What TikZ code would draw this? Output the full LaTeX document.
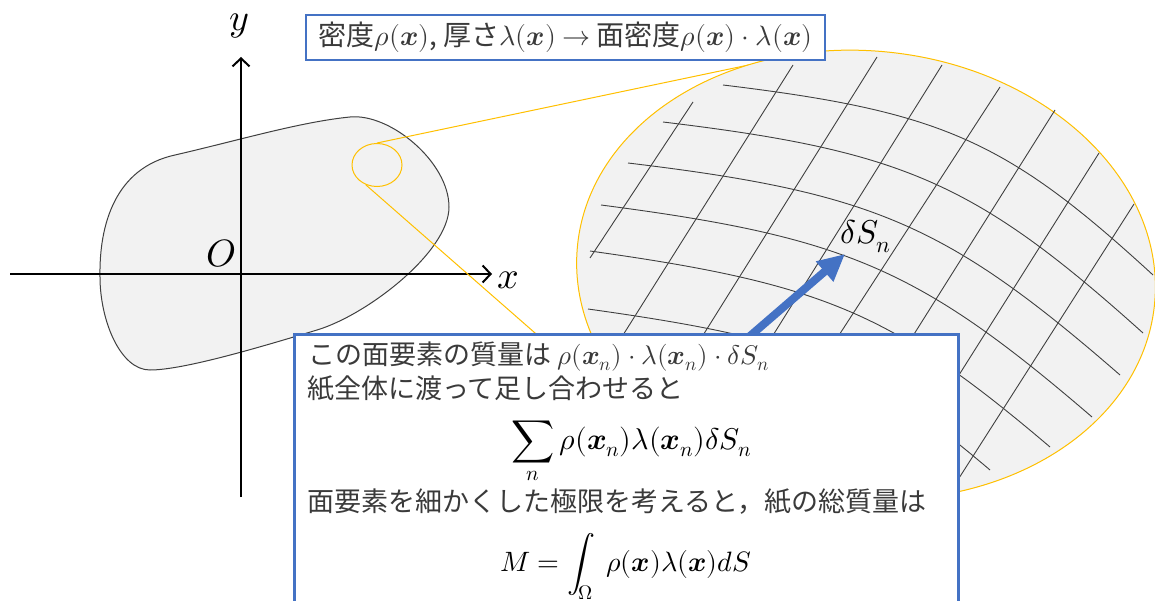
\documentclass[tikz,border=0pt]{standalone}
\usepackage{fontspec}
\usepackage{unicode-math}
\newfontfamily\jp{Noto Sans CJK JP}
\usetikzlibrary{arrows.meta,shapes.geometric}
\definecolor{boxblue}{HTML}{4472C4}
\definecolor{gold}{HTML}{FFC000}
\definecolor{paper}{HTML}{F2F2F2}
\definecolor{gridc}{HTML}{404040}
\definecolor{txt}{HTML}{3A3A3A}
\begin{document}
\begin{tikzpicture}[x=1pt,y=-1pt,
  blob/.style={draw=gridc, line width=1pt, fill=paper},
  axis/.style={line width=2pt, -{Straight Barb[length=8pt 0,width=17pt 0]}},
  yline/.style={draw=gold, line width=1pt},
  gridline/.style={draw=gridc, line width=0.9pt},
  bluearrow/.style={draw=boxblue, line width=8pt, -{Triangle[length=27pt 0,width=25pt 0]}},
  bluebox/.style={draw=boxblue, line width=2.5pt, fill=white, inner sep=0pt},
  jtext/.style={anchor=base west, inner sep=0pt, text=txt, font={\jp\fontsize{27}{32}\selectfont}},
  mtext/.style={anchor=base west, inner sep=0pt, font={\fontsize{28}{33}\selectfont}},
  axlabel/.style={anchor=base, inner sep=0pt, font={\fontsize{38}{44}\selectfont}}]
\useasboundingbox (0,0) rectangle (1155,601);
\clip (0,0) rectangle (1155,601);
\fill[white] (0,0) rectangle (1155,601);

% paper blob
\draw[blob] (175,155) .. controls (240,140) and (300,122) .. (350,117)
  .. controls (390,113) and (449,162) .. (449,207)
  .. controls (449,252) and (367,315) .. (317,330)
  .. controls (267,345) and (185,370) .. (150,370)
  .. controls (120,370) and (100,320) .. (100,277)
  .. controls (99,225) and (115,168) .. (175,155) -- cycle;

% axes
\coordinate (xs) at (10,274);
\coordinate (xe) at (492,274);
\coordinate (ys) at (241,497);
\coordinate (ye) at (241,57);
\draw[axis] (xs) -- (xe);
\draw[axis] (ys) -- (ye);
\node[axlabel] (xl) at (508,288) {$x$};
\node[axlabel] (yl) at (239,31) {$y$};
\node[axlabel] (ol) at (221,267) {$O$};

% magnified region
\node[draw=gold, line width=1pt, ellipse, minimum width=50pt, minimum height=43pt, inner sep=0pt] (zoomc) at (377,165) {};
\coordinate (t1) at (782,58);
\coordinate (t2) at (575,368);
\draw[yline] (zoomc.north) -- (t1);
\draw[yline] (zoomc.240) -- (t2);
\node[draw=gold, line width=1pt, fill=paper, ellipse, rotate=-6, minimum width=580pt, minimum height=448pt, inner sep=0pt] (big) at (866,275) {};

% grid: curved lines
\draw[gridline] (723,85) .. controls (941.5,111.4) and (1006,139.9) .. (1153,275);
\draw[gridline] (663,122) .. controls (903.6,150.9) and (975.6,182.6) .. (1143,333);
\draw[gridline] (628,163) .. controls (872.8,192.4) and (946.6,224.2) .. (1120,375);
\draw[gridline] (601,205) .. controls (845.8,236.8) and (919.5,268.6) .. (1092,417);
\draw[gridline] (590,251) .. controls (823.4,283.6) and (892.4,313) .. (1050,447);
\draw[gridline] (588,309) .. controls (804.3,339.3) and (864.6,363.4) .. (990,470);
% grid: straight lines
\draw[gridline] (693,102) -- (590,258);
\draw[gridline] (793,65) -- (601,370);
\draw[gridline] (877,57) -- (650,420);
\draw[gridline] (942,65) -- (695,460);
\draw[gridline] (1000,87) -- (745,480);
\draw[gridline] (1055,110) -- (816,490);
\draw[gridline] (1099,153) -- (882,497);
\draw[gridline] (1134,204) -- (945,500);

% area element label and arrow
\node[anchor=base west, inner sep=0pt, font={\fontsize{33}{40}\selectfont}] (dS) at (840,244) {$\delta S_n$};
\coordinate (astart) at (750,336);
\coordinate (atip) at (845,254);
\draw[bluearrow] (astart) -- (atip);

% top box
\node[bluebox, minimum width=519pt, minimum height=45pt, font={\jp\fontsize{28}{33}\selectfont}, text=txt] (topbox) at (565.5,37.5)
  {密度$\rho(\symbfit{x})$, 厚さ$\lambda(\symbfit{x})$ $\rightarrow$ 面密度$\rho(\symbfit{x})\cdot\lambda(\symbfit{x})$};

% bottom box
\node[bluebox, anchor=north west, minimum width=664pt, minimum height=300pt] (mainbox) at (293,333) {};
\node[jtext] (l1) at (308,364) {この面要素の質量は $\rho(\symbfit{x}_n)\cdot\lambda(\symbfit{x}_n)\cdot\delta S_n$};
\node[jtext] (l2) at (307,398) {紙全体に渡って足し合わせると};
\node[mtext, font={\fontsize{30}{36}\selectfont}] (l3) at (511,449) {$\displaystyle\sum_n\rho(\symbfit{x}_n)\lambda(\symbfit{x}_n)\delta S_n$};
\node[jtext] (l4) at (307,511) {面要素を細かくした極限を考えると，紙の総質量は};
\node[mtext] (l5) at (500,571) {$\displaystyle M=\int_\Omega\;\rho(\symbfit{x})\lambda(\symbfit{x})dS$};
\end{tikzpicture}
\end{document}
